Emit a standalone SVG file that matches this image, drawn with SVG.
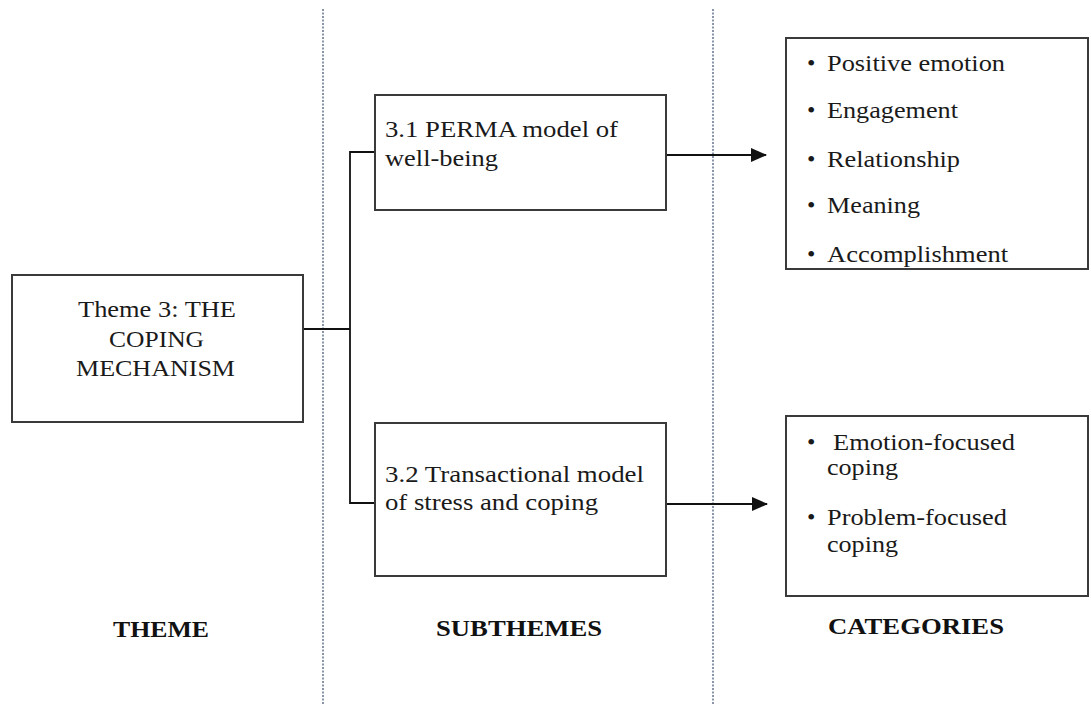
<svg xmlns="http://www.w3.org/2000/svg" width="1091" height="705" viewBox="0 0 1091 705">
<defs>
<style>
.box{fill:#fff;stroke:#3a3a3a;stroke-width:2}
.t{font-family:"Liberation Serif","Times New Roman",serif;font-size:24px;fill:#1a1a1a}
.h{font-family:"Liberation Serif","Times New Roman",serif;font-size:23px;font-weight:bold;fill:#111}
.div{stroke:#8996aa;stroke-width:2;stroke-dasharray:2 1.5;fill:none}
.con{stroke:#111;stroke-width:1.8;fill:none}
</style>
<marker id="arr" markerWidth="16" markerHeight="14" refX="15" refY="7" orient="auto" markerUnits="userSpaceOnUse">
<path d="M0,0 L16,7 L0,14 Z" fill="#111"/>
</marker>
<clipPath id="c1"><rect x="787" y="39" width="300" height="229"/></clipPath>
</defs>

<g id="dividers">
<line class="div" x1="323" y1="9" x2="323" y2="705"/>
<line class="div" x1="713" y1="9" x2="713" y2="705"/>
</g>

<g id="connectors">
<polyline class="con" points="303,329 350,329"/>
<polyline class="con" points="375,152 350,152 350,503 375,503"/>
<line class="con" x1="666" y1="155" x2="766" y2="155" marker-end="url(#arr)"/>
<line class="con" x1="666" y1="504" x2="767" y2="504" marker-end="url(#arr)"/>
</g>

<g id="theme">
<rect class="box" x="12" y="275" width="291" height="147"/>
<text class="t" x="78" y="317" textLength="158" lengthAdjust="spacingAndGlyphs">Theme 3: THE</text>
<text class="t" x="109" y="347" textLength="95" lengthAdjust="spacingAndGlyphs">COPING</text>
<text class="t" x="76" y="376" textLength="159" lengthAdjust="spacingAndGlyphs">MECHANISM</text>
</g>

<g id="sub1">
<rect class="box" x="375" y="95" width="291" height="115"/>
<text class="t" x="385" y="137" textLength="233" lengthAdjust="spacingAndGlyphs">3.1 PERMA model of</text>
<text class="t" x="385" y="166" textLength="113" lengthAdjust="spacingAndGlyphs">well-being</text>
</g>

<g id="sub2">
<rect class="box" x="375" y="423" width="291" height="153"/>
<text class="t" x="385" y="482" textLength="259" lengthAdjust="spacingAndGlyphs">3.2 Transactional model</text>
<text class="t" x="385" y="510" textLength="213" lengthAdjust="spacingAndGlyphs">of stress and coping</text>
</g>

<g id="cat1">
<rect class="box" x="786" y="38" width="302" height="231"/>
<g clip-path="url(#c1)">
<text class="t" x="807" y="71">•</text>
<text class="t" x="827" y="71" textLength="178" lengthAdjust="spacingAndGlyphs">Positive emotion</text>
<text class="t" x="807" y="118">•</text>
<text class="t" x="827" y="118" textLength="131" lengthAdjust="spacingAndGlyphs">Engagement</text>
<text class="t" x="807" y="167">•</text>
<text class="t" x="827" y="167" textLength="133" lengthAdjust="spacingAndGlyphs">Relationship</text>
<text class="t" x="807" y="213">•</text>
<text class="t" x="827" y="213" textLength="93" lengthAdjust="spacingAndGlyphs">Meaning</text>
<text class="t" x="807" y="262">•</text>
<text class="t" x="827" y="262" textLength="181" lengthAdjust="spacingAndGlyphs">Accomplishment</text>
</g>
</g>

<g id="cat2">
<rect class="box" x="786" y="416" width="302" height="180"/>
<text class="t" x="807" y="450">•</text>
<text class="t" x="833" y="450" textLength="182" lengthAdjust="spacingAndGlyphs">Emotion-focused</text>
<text class="t" x="827" y="475" textLength="71" lengthAdjust="spacingAndGlyphs">coping</text>
<text class="t" x="807" y="525">•</text>
<text class="t" x="827" y="525" textLength="180" lengthAdjust="spacingAndGlyphs">Problem-focused</text>
<text class="t" x="827" y="552" textLength="71" lengthAdjust="spacingAndGlyphs">coping</text>
</g>

<g id="labels">
<text class="h" x="113" y="637" textLength="96" lengthAdjust="spacingAndGlyphs">THEME</text>
<text class="h" x="436" y="636" textLength="166" lengthAdjust="spacingAndGlyphs">SUBTHEMES</text>
<text class="h" x="828" y="634" textLength="176" lengthAdjust="spacingAndGlyphs">CATEGORIES</text>
</g>
</svg>
